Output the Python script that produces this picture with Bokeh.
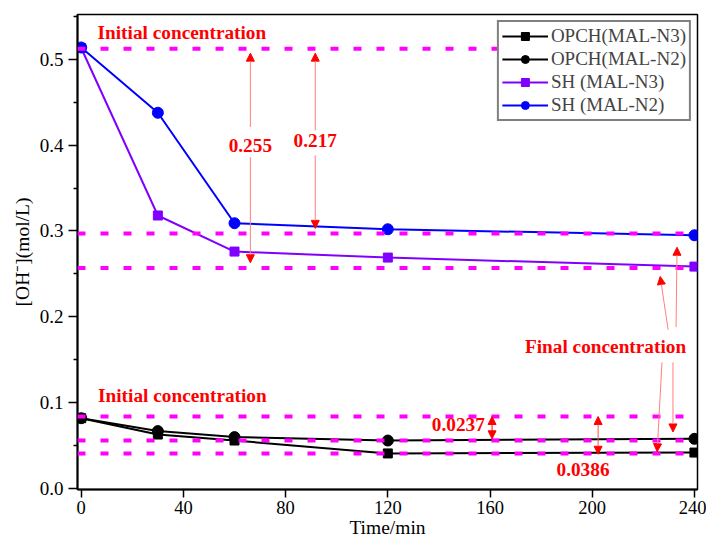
from bokeh.plotting import figure
from bokeh.models import (Range1d, FixedTicker, Span, Label, Arrow, NormalHead,
                          Legend, LegendItem, PrintfTickFormatter)
from bokeh.embed import file_html
from bokeh.resources import INLINE

# ---- data ----
time_min = [0, 30, 60, 120, 240]
opch_n3 = [0.082, 0.063, 0.056, 0.041, 0.042]
opch_n2 = [0.082, 0.067, 0.060, 0.056, 0.058]
sh_n3 = [0.513, 0.318, 0.276, 0.269, 0.2585]
sh_n2 = [0.5136, 0.4376, 0.309, 0.302, 0.295]
series_names = ["OPCH(MAL-N3)", "OPCH(MAL-N2)", "SH (MAL-N3)", "SH (MAL-N2)"]

ref_levels = [0.512, 0.297, 0.257, 0.084, 0.056, 0.041]
x_ticks = [0, 40, 80, 120, 160, 200, 240]
y_ticks = [0.0, 0.1, 0.2, 0.3, 0.4, 0.5]
y_minor = [0.05, 0.15, 0.25, 0.35, 0.45, 0.55]
x_title = "Time/min"
y_title = "[OH\u207b](mol/L)"

FONT = "Liberation Serif"

p = figure(width=706, height=540, output_backend="svg", toolbar_location=None,
           x_range=Range1d(-1.45, 241.2), y_range=Range1d(-0.001, 0.552),
           min_border_left=77, min_border_right=9, min_border_top=14,
           min_border_bottom=50)
p.background_fill_color = "white"
p.border_fill_color = "white"
p.grid.visible = False
p.outline_line_color = "black"
p.outline_line_width = 1.5

# axes
for ax in (p.xaxis[0], p.yaxis[0]):
    ax.axis_line_width = 2
    ax.major_tick_line_width = 1.5
    ax.minor_tick_line_width = 1.5
    ax.major_tick_in = 0
    ax.major_tick_out = 9
    ax.minor_tick_in = 0
    ax.minor_tick_out = 4
    ax.major_label_text_font = FONT
    ax.major_label_text_font_size = "19px"
    ax.major_label_text_color = "black"
    ax.axis_label_text_font = FONT
    ax.axis_label_text_font_size = "19.5px"
    ax.axis_label_text_font_style = "normal"
    ax.axis_label_text_color = "black"

p.xaxis.major_tick_out = 8
p.xaxis.major_label_text_font_size = "18.5px"
p.xaxis.ticker = FixedTicker(ticks=x_ticks, minor_ticks=[])
p.yaxis.ticker = FixedTicker(ticks=y_ticks, minor_ticks=y_minor)
p.yaxis.formatter = PrintfTickFormatter(format="%.1f")
p.xaxis.axis_label = x_title
p.yaxis.axis_label = y_title
p.xaxis.major_label_standoff = 3
p.xaxis.axis_label_standoff = 0
p.yaxis.major_label_standoff = 5
p.yaxis.axis_label_standoff = 4

# series
r1l = p.line(time_min, opch_n3, color="black", line_width=2)
r1m = p.scatter(time_min, opch_n3, marker="square", size=9, color="black")
r2l = p.line(time_min, opch_n2, color="black", line_width=2)
r2m = p.scatter(time_min, opch_n2, marker="circle", size=11, color="black")
r3l = p.line(time_min, sh_n3, color="#8000ff", line_width=2)
r3m = p.scatter(time_min, sh_n3, marker="square", size=9, color="#8000ff")
r4l = p.line(time_min, sh_n2, color="#0000ff", line_width=2)
r4m = p.scatter(time_min, sh_n2, marker="circle", size=11, color="#0000ff")

# reference dashed lines
for lv in ref_levels:
    p.add_layout(Span(location=lv, dimension="width", line_color="#ff00ff",
                      line_width=4, line_dash="8 15"))

legend = Legend(items=[
    LegendItem(label=series_names[0], renderers=[r1l, r1m]),
    LegendItem(label=series_names[1], renderers=[r2l, r2m]),
    LegendItem(label=series_names[2], renderers=[r3l, r3m]),
    LegendItem(label=series_names[3], renderers=[r4l, r4m]),
], location="top_right")
legend.margin = 6
legend.padding = 3
legend.spacing = 1
legend.label_height = 20
legend.glyph_height = 20
legend.glyph_width = 46
legend.label_standoff = 3
legend.label_text_font = FONT
legend.label_text_font_size = "19px"
legend.border_line_color = "black"
legend.border_line_width = 2
legend.background_fill_alpha = 1
p.add_layout(legend)

# annotations
def txt(x, y, s):
    p.add_layout(Label(x=x, y=y, text=s, text_font=FONT, text_font_size="19.3px",
                       text_font_style="bold", text_color="#ff0000",
                       text_align="center", text_baseline="middle"))

txt(39.4, 0.531, "Initial concentration")
txt(39.6, 0.109, "Initial concentration")
txt(205.2, 0.165, "Final concentration")
txt(66.2, 0.400, "0.255")
txt(91.6, 0.405, "0.217")
txt(147.6, 0.0744, "0.0237")
txt(196.4, 0.022, "0.0386")

SHAFT = "#ff7f7f"

def arrow(x0, y0, x1, y1, double=False, shaft=SHAFT):
    kw = dict(end=NormalHead(size=8, fill_color="red", line_color="red"),
              x_start=x0, y_start=y0, x_end=x1, y_end=y1,
              line_color=shaft, line_width=1)
    if double:
        kw["start"] = NormalHead(size=8, fill_color="red", line_color="red")
    p.add_layout(Arrow(**kw))

arrow(66.2, 0.421, 66.2, 0.507)
arrow(66.2, 0.386, 66.2, 0.263)
arrow(91.6, 0.417, 91.6, 0.507)
arrow(91.6, 0.388, 91.6, 0.303)
arrow(232.8, 0.188, 233.2, 0.281)
arrow(229.7, 0.185, 226.6, 0.247)
arrow(227.3, 0.147, 225.4, 0.043)
arrow(231.6, 0.147, 231.6, 0.066)
arrow(160.8, 0.058, 160.8, 0.084, double=True, shaft="#ff0000")
arrow(202.3, 0.040, 202.3, 0.084, double=True, shaft="#ff5050")

open("out.html", "w").write(file_html(p, INLINE))
